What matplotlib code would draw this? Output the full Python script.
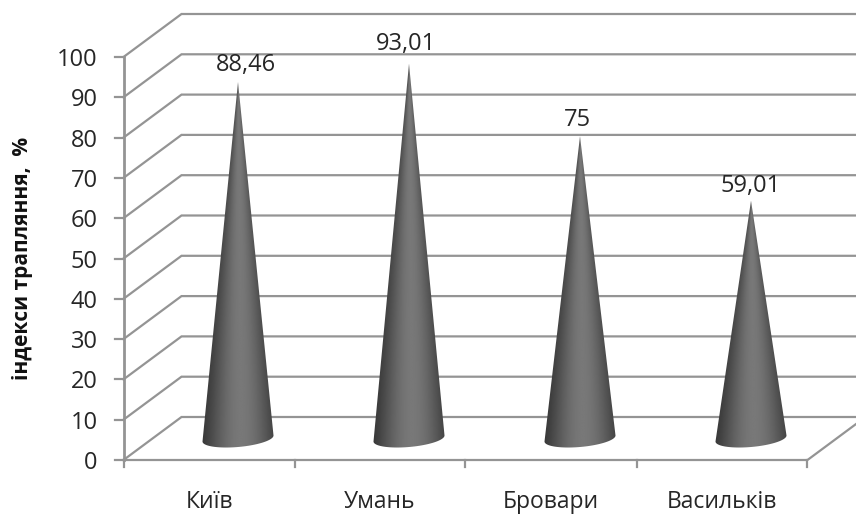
import numpy as np
import matplotlib
matplotlib.use("Agg")
import matplotlib.pyplot as plt
from matplotlib.path import Path
from matplotlib.patches import PathPatch

categories = ["Київ", "Умань", "Бровари", "Васильків"]
values = [88.46, 93.01, 75, 59.01]
value_labels = ["88,46", "93,01", "75", "59,01"]
y_ticks = list(range(0, 101, 10))
y_title = "індекси трапляння,  %"

W, H = 856, 515
PX_X = 171.0      # pixels per category
PX_Y = 4.03       # pixels per value unit
X0_PX = 123.5     # front left corner, pixels
Y0_PX = 460.0     # front floor line, pixels from top
DX = 58 / PX_X    # depth offset in x data units
DY = 43 / PX_Y    # depth offset in y data units
label_dx_px = [8, -3, -3, 0]   # nudges of the value labels
label_dy_px = [5, 8, 4, 3]

plt.rcParams["font.family"] = ["Open Sans", "DejaVu Sans"]
fig = plt.figure(figsize=(W / 100, H / 100), dpi=100)
ax = fig.add_axes([0, 0, 1, 1])
xlim = ((0 - X0_PX) / PX_X - 0.5, (W - X0_PX) / PX_X - 0.5)
ylim = ((Y0_PX - H) / PX_Y, Y0_PX / PX_Y)
ax.axis("off")

GRID = "#949494"
TXT = "#262626"
LW = 1.6
xl, xr = -0.5, len(categories) - 0.5

# walls and gridlines
for v in y_ticks:
    ax.plot([xl, xl + DX, xr + DX], [v, v + DY, v + DY], color=GRID, lw=LW,
            solid_joinstyle="miter", zorder=1)
    ax.plot([xl - 9 / PX_X, xl], [v, v], color=GRID, lw=LW, zorder=1)
    ax.text(xl - 26 / PX_X, v, str(v), ha="right", va="center_baseline",
            fontsize=17, color=TXT)
# floor and axis
ax.plot([xl, xl], [0, 100], color=GRID, lw=LW + 0.4, zorder=1)
ax.plot([xl, xr, xr + DX], [0, 0, DY], color=GRID, lw=LW, zorder=1)
for i in range(len(categories) + 1):
    ax.plot([xl + i, xl + i], [0, -7 / PX_Y], color=GRID, lw=LW, zorder=1)

half_w = 35.5 / PX_X
tilt = 3 / PX_Y
bulge = 8.5 / PX_Y
for i, (v, lab) in enumerate(zip(values, value_labels)):
    xc = i + DX / 2
    yb = DY / 2
    apex = yb + v
    t = np.linspace(0, np.pi, 50)
    arc_x = xc + half_w * np.cos(t)
    arc_y = yb + tilt * np.cos(t) - bulge * np.sin(t)
    verts = [(xc, apex)] + list(zip(arc_x, arc_y)) + [(xc, apex)]
    codes = [Path.MOVETO] + [Path.LINETO] * (len(verts) - 2) + [Path.CLOSEPOLY]
    patch = PathPatch(Path(verts, codes), fc="none", ec="none", zorder=3)
    ax.add_patch(patch)

    y0, y1 = yb - 2.5, apex
    xs = np.linspace(xc - half_w * 1.02, xc + half_w * 1.02, 160)
    ys = np.linspace(y0, y1, 420)
    gx, gy = np.meshgrid(xs, ys)
    frac = np.clip((apex - gy) / v, 0.004, 1.2)
    u = np.clip((gx - xc) / (half_w * frac), -1, 1)
    # soft horizontal shading, edges get darker towards the base
    edge = 86 - 28 * np.clip(frac, 0, 1)
    peak = 120
    w = np.clip(1 - np.abs(u - 0.08) / 1.08, 0, 1)
    shade = (edge + (peak - edge) * np.sin(w * np.pi / 2) ** 1.2) / 255
    im = ax.imshow(shade, extent=[xs[0], xs[-1], y0, y1], origin="lower",
                   cmap="gray", vmin=0, vmax=1, aspect="auto",
                   interpolation="bilinear", zorder=3)
    im.set_clip_path(patch)

    ax.text(xc + label_dx_px[i] / PX_X, apex + label_dy_px[i] / PX_Y, lab,
            ha="center", va="bottom", fontsize=17, color=TXT, zorder=4)
    ax.text(i, -(508 - Y0_PX) / PX_Y, categories[i], ha="center", va="baseline",
            fontsize=16.5, color=TXT)

ax.text((22 - X0_PX) / PX_X - 0.5, (Y0_PX - 258) / PX_Y, y_title, rotation=90,
        ha="center", va="center", fontsize=15, fontweight="bold", color="#111111")

ax.set_xlim(*xlim)
ax.set_ylim(*ylim)
fig.savefig("out.png", dpi=100, facecolor="white")
